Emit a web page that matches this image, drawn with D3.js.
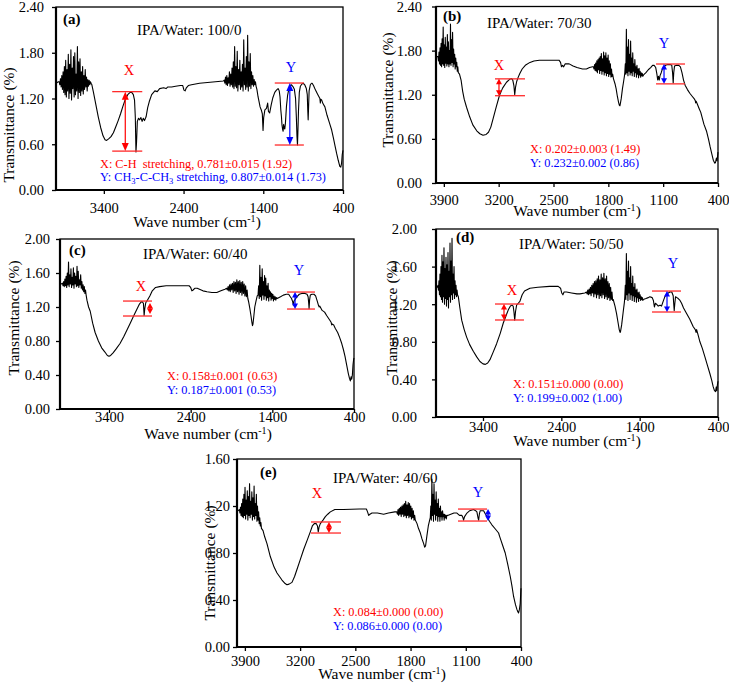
<!DOCTYPE html>
<html><head><meta charset="utf-8">
<script src="https://cdn.jsdelivr.net/npm/d3@7"></script>
<style>
body{margin:0;background:#fff}
svg{display:block}
text{font-family:"Liberation Serif","Times New Roman",Times,serif}
</style>
</head><body>
<svg id="c" width="729" height="690"></svg>
<script>
// ================= DATA (wavenumber cm-1, transmittance) =================
const xTicksWide = [3400, 2400, 1400, 400];
const xTicksNarrow = [3900, 3200, 2500, 1800, 1100, 400];
const yTicks24 = [0, 0.6, 1.2, 1.8, 2.4];
const yTicks20 = [0, 0.4, 0.8, 1.2, 1.6, 2.0];
const yTicks16 = [0, 0.4, 0.8, 1.2, 1.6];

// ---- (a) IPA/Water 100/0 ----
const aHead = [[4000,1.40],[3985,1.41],[3970,1.42]];
const aNoise1 = {from:3960, to:3560, v:[1.42,1.38,1.46,1.35,1.50,1.32,1.55,1.28,1.62,1.25,1.70,1.22,1.58,1.30,1.78,1.20,1.65,1.27,1.84,1.18,1.60,1.33,1.75,1.22,1.80,1.25,1.52,1.30,1.88,1.20,1.68,1.28,1.72,1.24,1.55,1.30,1.62,1.26,1.50,1.32,1.58,1.35,1.48,1.30,1.45,1.36,1.44,1.38,1.42,1.40]};
const aMid = [[3550,1.38],[3530,1.28],[3500,1.12],[3470,0.96],[3440,0.82],[3410,0.71],[3385,0.66],[3365,0.65],[3340,0.67],[3310,0.70],[3280,0.75],[3250,0.83],[3220,0.91],[3190,1.00],[3160,1.10],[3130,1.19],[3100,1.25],[3070,1.28],[3050,1.28],[3030,1.25],[3015,1.18],[3005,0.95],[2997,0.50],[2990,0.62],[2980,0.90],[2965,0.94],[2950,0.92],[2935,0.95],[2920,0.90],[2905,0.94],[2890,0.91],[2870,0.96],[2850,1.08],[2830,1.16],[2800,1.25],[2760,1.30],[2730,1.29],[2700,1.33],[2650,1.34],[2620,1.33],[2600,1.35],[2550,1.35],[2500,1.36],[2440,1.37],[2410,1.37],[2395,1.31],[2380,1.30],[2365,1.34],[2340,1.37],[2300,1.38],[2200,1.40],[2100,1.41],[2000,1.42],[1900,1.43]];
const aNoise2 = {from:1890, to:1490, v:[1.44,1.40,1.48,1.38,1.50,1.37,1.47,1.40,1.55,1.36,1.52,1.38,1.60,1.35,1.68,1.33,1.88,1.36,1.62,1.34,1.82,1.30,1.58,1.38,1.70,1.32,1.55,1.35,1.65,1.30,1.97,1.38,1.60,1.32,1.75,1.35,2.03,1.30,1.68,1.36,1.79,1.33,1.55,1.38,1.50,1.36,1.45,1.38,1.42,1.36]};
const aTail = [[1480,1.32],[1465,1.22],[1453,1.16],[1440,1.09],[1425,1.05],[1412,1.00],[1403,0.78],[1395,0.95],[1380,1.05],[1360,1.07],[1345,1.14],[1335,1.03],[1320,1.01],[1300,1.12],[1280,1.21],[1256,1.28],[1235,1.31],[1214,1.33],[1200,1.30],[1190,1.22],[1180,1.05],[1172,0.96],[1165,0.85],[1158,0.80],[1151,0.77],[1145,0.86],[1138,0.82],[1130,0.80],[1122,0.88],[1115,1.00],[1109,1.10],[1095,1.24],[1080,1.32],[1060,1.37],[1046,1.38],[1030,1.36],[1010,1.32],[995,1.20],[985,0.95],[977,0.70],[971,0.59],[966,0.75],[958,1.05],[948,1.28],[935,1.36],[915,1.39],[899,1.40],[880,1.38],[860,1.33],[848,1.25],[842,1.05],[837,0.92],[832,1.08],[825,1.30],[810,1.38],[795,1.40],[787,1.40],[770,1.37],[745,1.31],[720,1.26],[690,1.20],[684,1.14],[680,1.19],[668,1.18],[650,1.13],[627,1.09],[600,0.98],[570,0.88],[543,0.79],[520,0.68],[500,0.58],[480,0.48],[460,0.39],[440,0.31],[428,0.30],[418,0.35],[410,0.46],[404,0.50],[400,0.52]];

// ---- (b) IPA/Water 70/30 ----
const bHead = [[4000,1.70],[3985,1.72]];
const bNoise1 = {from:3975, to:3715, v:[1.72,1.66,1.78,1.62,1.84,1.60,1.90,1.58,1.96,1.62,2.12,1.60,1.88,1.57,1.98,1.63,1.85,1.59,2.02,1.62,1.92,1.58,1.80,1.62,2.16,1.60,1.95,1.64,2.05,1.58,1.82,1.62,1.75,1.55,1.70,1.58,1.64,1.52,1.58,1.50]};
const bMid = [[3700,1.48],[3680,1.40],[3660,1.25],[3640,1.14],[3610,1.03],[3570,0.90],[3530,0.79],[3480,0.71],[3440,0.67],[3400,0.65],[3360,0.66],[3330,0.69],[3300,0.76],[3270,0.88],[3230,1.04],[3190,1.19],[3150,1.29],[3100,1.37],[3060,1.41],[3035,1.42],[3020,1.40],[3005,1.32],[2995,1.20],[2985,1.30],[2970,1.38],[2950,1.44],[2930,1.49],[2900,1.55],[2860,1.60],[2800,1.64],[2750,1.66],[2680,1.67],[2550,1.67],[2430,1.67],[2410,1.64],[2398,1.58],[2385,1.60],[2370,1.58],[2350,1.62],[2300,1.62],[2250,1.59],[2200,1.57],[2130,1.55],[2080,1.55],[2040,1.57],[2000,1.58]];
const bNoise2 = {from:1990, to:1745, v:[1.58,1.55,1.61,1.53,1.63,1.52,1.66,1.50,1.68,1.54,1.70,1.49,1.72,1.53,1.76,1.48,1.69,1.52,1.78,1.47,1.73,1.50,1.77,1.46,1.70,1.49,1.74,1.45,1.66,1.48,1.62,1.44,1.55,1.45,1.48]};
const bMid2 = [[1735,1.42],[1715,1.35],[1700,1.28],[1685,1.18],[1670,1.10],[1660,1.06],[1652,1.05],[1645,1.09],[1635,1.15],[1620,1.28],[1605,1.38],[1595,1.45]];
const bNoise3 = {from:1590, to:1360, v:[1.50,1.62,1.48,2.09,1.50,1.85,1.46,1.95,1.52,1.75,1.47,1.93,1.50,1.70,1.46,1.77,1.52,1.62,1.45,1.68,1.50,1.58,1.44,1.60,1.48,1.55,1.43,1.56,1.47,1.52,1.44,1.50,1.46,1.49,1.45]};
const bTail = [[1350,1.47],[1320,1.50],[1290,1.54],[1260,1.57],[1235,1.60],[1215,1.60],[1195,1.57],[1180,1.48],[1170,1.40],[1160,1.45],[1150,1.40],[1140,1.46],[1125,1.50],[1110,1.55],[1090,1.58],[1070,1.60],[1040,1.61],[1010,1.61],[990,1.60],[980,1.50],[972,1.36],[965,1.50],[955,1.59],[930,1.60],[900,1.60],[880,1.58],[860,1.50],[840,1.40],[820,1.33],[790,1.27],[760,1.22],[730,1.18],[700,1.14],[690,1.12],[685,1.09],[678,1.11],[667,1.08],[640,1.01],[620,0.96],[580,0.80],[545,0.70],[520,0.59],[500,0.49],[480,0.40],[460,0.31],[440,0.27],[430,0.29],[420,0.34],[412,0.30],[405,0.37],[400,0.42]];

// ---- (c) IPA/Water 60/40 ----
const cHead = [[4000,1.47],[3985,1.47]];
const cNoise1 = {from:3970, to:3680, v:[1.48,1.45,1.50,1.44,1.53,1.45,1.56,1.43,1.60,1.46,1.73,1.44,1.58,1.47,1.65,1.43,1.55,1.46,1.66,1.42,1.60,1.47,1.56,1.44,1.68,1.45,1.62,1.43,1.52,1.46,1.58,1.42,1.50,1.40,1.46,1.38,1.44,1.36,1.40,1.34]};
const cMid = [[3670,1.28],[3650,1.20],[3630,1.15],[3600,1.01],[3570,0.90],[3530,0.80],[3490,0.72],[3450,0.67],[3420,0.63],[3400,0.62],[3380,0.63],[3350,0.66],[3310,0.71],[3265,0.77],[3220,0.85],[3180,0.93],[3140,1.01],[3100,1.09],[3060,1.17],[3030,1.23],[3005,1.26],[2990,1.26],[2978,1.24],[2970,1.10],[2962,1.18],[2950,1.25],[2930,1.28],[2900,1.33],[2870,1.39],[2830,1.43],[2780,1.44],[2700,1.45],[2550,1.45],[2420,1.45],[2400,1.43],[2385,1.39],[2370,1.40],[2350,1.42],[2320,1.42],[2250,1.39],[2200,1.38],[2140,1.37],[2080,1.37],[2030,1.39],[1980,1.41]];
const cNoise2 = {from:1960, to:1700, v:[1.42,1.40,1.44,1.39,1.46,1.38,1.47,1.40,1.48,1.37,1.50,1.39,1.49,1.36,1.52,1.38,1.50,1.35,1.51,1.37,1.49,1.34,1.50,1.36,1.47,1.33,1.45,1.32,1.40,1.30]};
const cMid2 = [[1690,1.26],[1675,1.18],[1662,1.10],[1650,1.02],[1643,0.98],[1637,1.00],[1628,1.08],[1615,1.20],[1600,1.27],[1585,1.33]];
const cNoise3 = {from:1575, to:1350, v:[1.34,1.45,1.30,1.69,1.32,1.55,1.28,1.65,1.34,1.50,1.29,1.57,1.33,1.54,1.28,1.45,1.31,1.48,1.27,1.40,1.32,1.38,1.28,1.36,1.30,1.35,1.27,1.33,1.29,1.32,1.28,1.31]};
const cTail = [[1340,1.30],[1300,1.32],[1265,1.34],[1230,1.35],[1200,1.35],[1180,1.32],[1165,1.30],[1150,1.26],[1143,1.22],[1135,1.27],[1120,1.29],[1100,1.32],[1070,1.35],[1040,1.36],[1000,1.36],[975,1.35],[962,1.32],[955,1.25],[950,1.18],[944,1.28],[935,1.34],[915,1.35],[890,1.35],[870,1.33],[850,1.27],[835,1.22],[826,1.20],[818,1.21],[790,1.16],[760,1.14],[735,1.10],[700,1.05],[680,1.02],[673,0.99],[665,1.00],[650,0.99],[630,0.95],[600,0.90],[575,0.84],[550,0.77],[530,0.70],[510,0.62],[490,0.52],[470,0.42],[455,0.36],[445,0.33],[435,0.38],[428,0.35],[420,0.40],[412,0.52],[405,0.58],[400,0.60]];

// ---- (d) IPA/Water 50/50 ----
const dHead = [[4000,1.40],[3985,1.38]];
const dNoise1 = {from:3975, to:3725, v:[1.40,1.35,1.45,1.30,1.52,1.28,1.60,1.25,1.72,1.22,1.65,1.28,1.80,1.20,1.58,1.26,1.70,1.18,1.62,1.25,1.75,1.16,1.55,1.28,1.85,1.22,1.66,1.30,1.90,1.25,1.52,1.32,1.60,1.26,1.45,1.30,1.40,1.28,1.35,1.30]};
const dMid = [[3715,1.28],[3695,1.16],[3672,1.03],[3640,0.93],[3609,0.85],[3570,0.77],[3524,0.70],[3480,0.64],[3439,0.59],[3400,0.565],[3370,0.56],[3340,0.575],[3311,0.61],[3270,0.69],[3226,0.78],[3180,0.89],[3141,1.00],[3100,1.09],[3077,1.14],[3050,1.18],[3030,1.19],[3015,1.18],[3005,1.12],[2995,1.03],[2985,1.12],[2971,1.19],[2950,1.21],[2929,1.23],[2900,1.30],[2870,1.34],[2801,1.37],[2700,1.38],[2550,1.39],[2440,1.39],[2410,1.37],[2395,1.32],[2380,1.30],[2365,1.33],[2333,1.33],[2270,1.32],[2200,1.31],[2163,1.31],[2100,1.32]];
const dNoise2 = {from:2080, to:1745, v:[1.33,1.31,1.35,1.30,1.36,1.31,1.38,1.29,1.40,1.32,1.42,1.28,1.44,1.31,1.45,1.27,1.47,1.30,1.50,1.26,1.46,1.29,1.52,1.27,1.48,1.30,1.53,1.26,1.47,1.28,1.50,1.25,1.44,1.27,1.42,1.24,1.38,1.25,1.33,1.24]};
const dMid2 = [[1738,1.25],[1715,1.18],[1695,1.10],[1675,1.00],[1661,0.93],[1650,0.90],[1644,0.91],[1630,0.98],[1610,1.12],[1595,1.22]];
const dNoise3 = {from:1590, to:1360, v:[1.28,1.40,1.25,1.74,1.30,1.55,1.24,1.66,1.32,1.48,1.25,1.60,1.30,1.42,1.24,1.50,1.29,1.38,1.23,1.42,1.28,1.35,1.22,1.36,1.27,1.32,1.23,1.33,1.26,1.30,1.24,1.28,1.25,1.27,1.24]};
const dTail = [[1355,1.25],[1320,1.26],[1290,1.27],[1270,1.28],[1240,1.27],[1225,1.24],[1212,1.17],[1200,1.21],[1185,1.20],[1163,1.18],[1140,1.19],[1121,1.18],[1100,1.23],[1078,1.28],[1050,1.31],[1014,1.33],[990,1.33],[972,1.29],[965,1.20],[959,1.13],[952,1.20],[942,1.28],[925,1.27],[908,1.26],[885,1.24],[865,1.21],[840,1.16],[801,1.10],[760,1.04],[716,0.96],[690,0.93],[680,0.90],[673,0.93],[650,0.86],[631,0.80],[600,0.73],[567,0.64],[535,0.55],[503,0.46],[480,0.39],[461,0.32],[445,0.28],[431,0.27],[422,0.32],[415,0.28],[408,0.34],[400,0.38]];

// ---- (e) IPA/Water 40/60 ----
const eHead = [[4000,1.17],[3985,1.16]];
const eNoise1 = {from:3970, to:3690, v:[1.17,1.14,1.19,1.12,1.22,1.11,1.26,1.10,1.30,1.12,1.36,1.09,1.25,1.13,1.33,1.08,1.28,1.12,1.39,1.10,1.24,1.13,1.32,1.08,1.27,1.11,1.37,1.09,1.22,1.12,1.30,1.07,1.20,1.08,1.15,1.05,1.10,1.03,1.06,1.01]};
const eMid = [[3670,0.99],[3650,0.94],[3620,0.88],[3578,0.77],[3530,0.68],[3493,0.63],[3430,0.57],[3390,0.54],[3367,0.53],[3340,0.535],[3303,0.55],[3270,0.60],[3240,0.66],[3200,0.74],[3155,0.83],[3110,0.91],[3071,0.98],[3045,1.03],[3020,1.05],[2995,1.05],[2980,1.03],[2970,0.98],[2960,1.02],[2944,1.05],[2910,1.08],[2880,1.11],[2850,1.13],[2817,1.15],[2760,1.17],[2650,1.17],[2450,1.175],[2360,1.175],[2345,1.15],[2331,1.12],[2315,1.13],[2289,1.14],[2220,1.14],[2141,1.13],[2080,1.14],[2000,1.15]];
const eNoise2 = {from:1975, to:1740, v:[1.15,1.13,1.17,1.12,1.18,1.13,1.19,1.11,1.20,1.13,1.21,1.11,1.22,1.12,1.24,1.10,1.21,1.12,1.23,1.10,1.22,1.11,1.20,1.09,1.18,1.10,1.16,1.08,1.12,1.08]};
const eMid2 = [[1718,1.05],[1700,1.01],[1676,0.97],[1655,0.92],[1634,0.88],[1621,0.85],[1610,0.86],[1592,0.95],[1575,1.03],[1558,1.08]];
const eNoise3 = {from:1550, to:1340, v:[1.10,1.20,1.08,1.43,1.12,1.30,1.07,1.39,1.13,1.25,1.08,1.32,1.12,1.22,1.07,1.26,1.11,1.18,1.07,1.20,1.11,1.15,1.08,1.16,1.11,1.13,1.08,1.13,1.10,1.12,1.09,1.12]};
const eTail = [[1330,1.12],[1290,1.13],[1250,1.14],[1212,1.14],[1180,1.12],[1149,1.12],[1135,1.10],[1128,1.08],[1115,1.11],[1085,1.14],[1050,1.16],[1001,1.17],[975,1.16],[959,1.15],[945,1.10],[937,1.08],[928,1.13],[917,1.16],[895,1.16],[874,1.16],[850,1.13],[832,1.11],[800,1.07],[769,1.04],[720,1.00],[684,0.97],[670,0.94],[655,0.91],[630,0.86],[600,0.80],[570,0.71],[536,0.60],[515,0.52],[494,0.43],[470,0.36],[452,0.32],[440,0.30],[431,0.29],[420,0.32],[410,0.37],[404,0.45],[400,0.50]];

// ---- annotation values (band depths) ----
const panelTags = ["(a)","(b)","(c)","(d)","(e)"];
const panelTitles = ["IPA/Water: 100/0","IPA/Water: 70/30","IPA/Water: 60/40","IPA/Water: 50/50","IPA/Water: 40/60"];
// X / Y band markers: [wn left, wn right, T upper, T lower, wn arrow, T arrow top, T arrow bottom]
const markX = [[3295,2918,1.29,0.51,3131,1.29,0.51],[3247,2864,1.416,1.187,3196,1.416,1.187],[3229,2873,1.27,1.094,2898,1.247,1.118],[3247,2877,1.202,1.032,3132,1.202,1.032],[3062,2682,1.064,0.970,2834,1.064,0.970]];
const markY = [[1256,891,1.403,0.590,1067,1.403,0.590],[1191,821,1.618,1.348,1089,1.618,1.348],[1220,878,1.376,1.176,1122,1.376,1.176],[1243,872,1.340,1.117,1051,1.340,1.117],[1199,831,1.174,1.072,818,1.174,1.072]];
const notesX = ["0.781\u00b10.015 (1.92)","0.202\u00b10.003 (1.49)","0.158\u00b10.001 (0.63)","0.151\u00b10.000 (0.00)","0.084\u00b10.000 (0.00)"];
const notesY = ["0.807\u00b10.014 (1.73)","0.232\u00b10.002 (0.86)","0.187\u00b10.001 (0.53)","0.199\u00b10.002 (1.00)","0.086\u00b10.000 (0.00)"];

// ================= BUILD =================
function seg(n){ const k=n.v.length; return n.v.map((v,i)=>[n.from+(n.to-n.from)*i/(k-1), v]); }
const spectra = [
  [...aHead, ...seg(aNoise1), ...aMid, ...seg(aNoise2), ...aTail],
  [...bHead, ...seg(bNoise1), ...bMid, ...seg(bNoise2), ...bMid2, ...seg(bNoise3), ...bTail],
  [...cHead, ...seg(cNoise1), ...cMid, ...seg(cNoise2), ...cMid2, ...seg(cNoise3), ...cTail],
  [...dHead, ...seg(dNoise1), ...dMid, ...seg(dNoise2), ...dMid2, ...seg(dNoise3), ...dTail],
  [...eHead, ...seg(eNoise1), ...eMid, ...seg(eNoise2), ...eMid2, ...seg(eNoise3), ...eTail]
];

// layout (pixels)
const L = [
  {box:[56,343,7,190], yMax:2.4, yT:yTicks24, xT:xTicksWide, tickBase:212.5, yLabR:44, tag:[63,24], title:[137,35], xl:[129,75], yl:[291,72], note:[100,168,181], yTitle:[9,125], xTitle:[197,227], arrowH:8, arrowW:7},
  {box:[436,718,6.5,183], yMax:2.4, yT:yTicks24, xT:xTicksNarrow, tickBase:205, yLabR:422, tag:[443,21], title:[487,28], xl:[499,70], yl:[664,48], note:[530,153,167], yTitle:[388,90], xTitle:[577,216], arrowH:5.5, arrowW:6},
  {box:[60,354,239,409], yMax:2.0, yT:yTicks20, xT:xTicksWide, tickBase:422, yLabR:50, tag:[69,255], title:[143,259], xl:[141,291], yl:[299,275], note:[167,380,394], yTitle:[14,318], xTitle:[208,438.5], arrowH:5.5, arrowW:6},
  {box:[436,718,229,417], yMax:2.0, yT:yTicks20, xT:xTicksWide, tickBase:432, yLabR:417, tag:[456,242], title:[519,249], xl:[512,295], yl:[673,268], note:[513,388,402], yTitle:[392,318], xTitle:[577,446], arrowH:5.5, arrowW:6},
  {box:[237,521,459,647], yMax:1.6, yT:yTicks16, xT:xTicksNarrow, tickBase:665.5, yLabR:230, tag:[260,477], title:[333,483], xl:[317,498], yl:[478,497], note:[333,616,630], yTitle:[210,563], xTitle:[382,679], arrowH:5.5, arrowW:6}
];

const svg = d3.select('#c');
const RED = '#ff0000', BLUE = '#0000ff';

function arrow(g, x, y1, y2, h, w, color){
  g.append('line').attr('x1',x).attr('x2',x).attr('y1',y1+h*0.8).attr('y2',y2-h*0.8)
    .attr('stroke',color).attr('stroke-width',1.2);
  g.append('path').attr('d',`M${x},${y1} L${x-w/2},${y1+h} L${x+w/2},${y1+h} Z`).attr('fill',color);
  g.append('path').attr('d',`M${x},${y2} L${x-w/2},${y2-h} L${x+w/2},${y2-h} Z`).attr('fill',color);
}

spectra.forEach((data, i) => {
  const c = L[i];
  const [x0,x1,yTop,yBot] = c.box;
  const x = d3.scaleLinear().domain([4000,400]).range([x0,x1]);
  const y = d3.scaleLinear().domain([0,c.yMax]).range([yBot,yTop]);
  const g = svg.append('g');

  // axes
  const xa = g.append('g').attr('transform',`translate(0,${yBot})`)
    .call(d3.axisBottom(x).tickValues(c.xT).tickSize(4).tickFormat(d3.format('d')));
  xa.select('.domain').remove();
  xa.selectAll('line').attr('stroke','#000').attr('stroke-width',1.3);
  xa.selectAll('text').attr('y', c.tickBase - yBot).attr('dy',0)
    .style('font-size','14.5px').style('font-family','"Liberation Serif","Times New Roman",serif').attr('fill','#000');

  const ya = g.append('g').attr('transform',`translate(${x0},0)`)
    .call(d3.axisLeft(y).tickValues(c.yT).tickSize(4).tickFormat(d3.format('.2f')));
  ya.select('.domain').remove();
  ya.selectAll('line').attr('stroke','#000').attr('stroke-width',1.3);
  ya.selectAll('text').attr('x', c.yLabR - x0).attr('dy','0.34em')
    .style('font-size','14.5px').style('font-family','"Liberation Serif","Times New Roman",serif').attr('fill','#000');

  // frame
  g.append('rect').attr('x',x0).attr('y',yTop).attr('width',x1-x0).attr('height',yBot-yTop)
    .attr('fill','none').attr('stroke','#000').attr('stroke-width',1.3);
  g.append('path').attr('d',`M${x0},${yTop} V${yBot} H${x1}`).attr('fill','none').attr('stroke','#000').attr('stroke-width',2.2);

  // spectrum
  const line = d3.line().x(d=>x(d[0])).y(d=>y(d[1]));
  g.append('path').datum(data).attr('d',line).attr('fill','none')
    .attr('stroke','#000').attr('stroke-width',1.1).attr('stroke-linejoin','round');

  // markers
  const mx = markX[i], my = markY[i];
  [[mx,RED],[my,BLUE]].forEach(([m,col])=>{
    [m[2],m[3]].forEach(t=>{
      g.append('line').attr('x1',x(m[0])).attr('x2',x(m[1])).attr('y1',y(t)).attr('y2',y(t))
        .attr('stroke','#ff2a2a').attr('stroke-width',1.3);
    });
    arrow(g, x(m[4]), y(m[5]), y(m[6]), c.arrowH, c.arrowW, col);
  });

  // texts
  g.append('text').attr('x',c.tag[0]).attr('y',c.tag[1]).text(panelTags[i])
    .style('font-size','15px').style('font-weight','bold');
  g.append('text').attr('x',c.title[0]).attr('y',c.title[1]).text(panelTitles[i]).style('font-size','15px');
  g.append('text').attr('x',c.xl[0]).attr('y',c.xl[1]).attr('text-anchor','middle').text('X')
    .style('font-size','14.5px').attr('fill',RED);
  g.append('text').attr('x',c.yl[0]).attr('y',c.yl[1]).attr('text-anchor','middle').text('Y')
    .style('font-size','14.5px').attr('fill',BLUE);

  // notes
  const tx = g.append('text').attr('x',c.note[0]).attr('y',c.note[1]).attr('fill',RED)
    .style('font-size','12.3px').style('white-space','pre');
  const ty = g.append('text').attr('x',c.note[0]).attr('y',c.note[2]).attr('fill',BLUE)
    .style('font-size','12.3px').style('white-space','pre');
  if (i === 0) {
    tx.text('X: C-H  stretching, ' + notesX[i]);
    ty.append('tspan').text('Y: CH');
    ty.append('tspan').attr('dy',3).style('font-size','8.5px').text('3');
    ty.append('tspan').attr('dy',-3).text('-C-CH');
    ty.append('tspan').attr('dy',3).style('font-size','8.5px').text('3');
    ty.append('tspan').attr('dy',-3).text(' stretching, ' + notesY[i]);
  } else {
    tx.text('X: ' + notesX[i]);
    ty.text('Y: ' + notesY[i]);
  }

  // axis titles
  g.append('text').attr('transform',`translate(${c.yTitle[0]},${c.yTitle[1]}) rotate(-90)`)
    .attr('text-anchor','middle').attr('dy','0.35em').text('Transmittance (%)').style('font-size','15.5px');
  const xt = g.append('text').attr('x',c.xTitle[0]).attr('y',c.xTitle[1]).attr('text-anchor','middle')
    .style('font-size','15.5px');
  xt.append('tspan').text('Wave number (cm');
  xt.append('tspan').attr('dy',-5).style('font-size','10px').text('-1');
  xt.append('tspan').attr('dy',5).text(')');
});
</script>
</body></html>
